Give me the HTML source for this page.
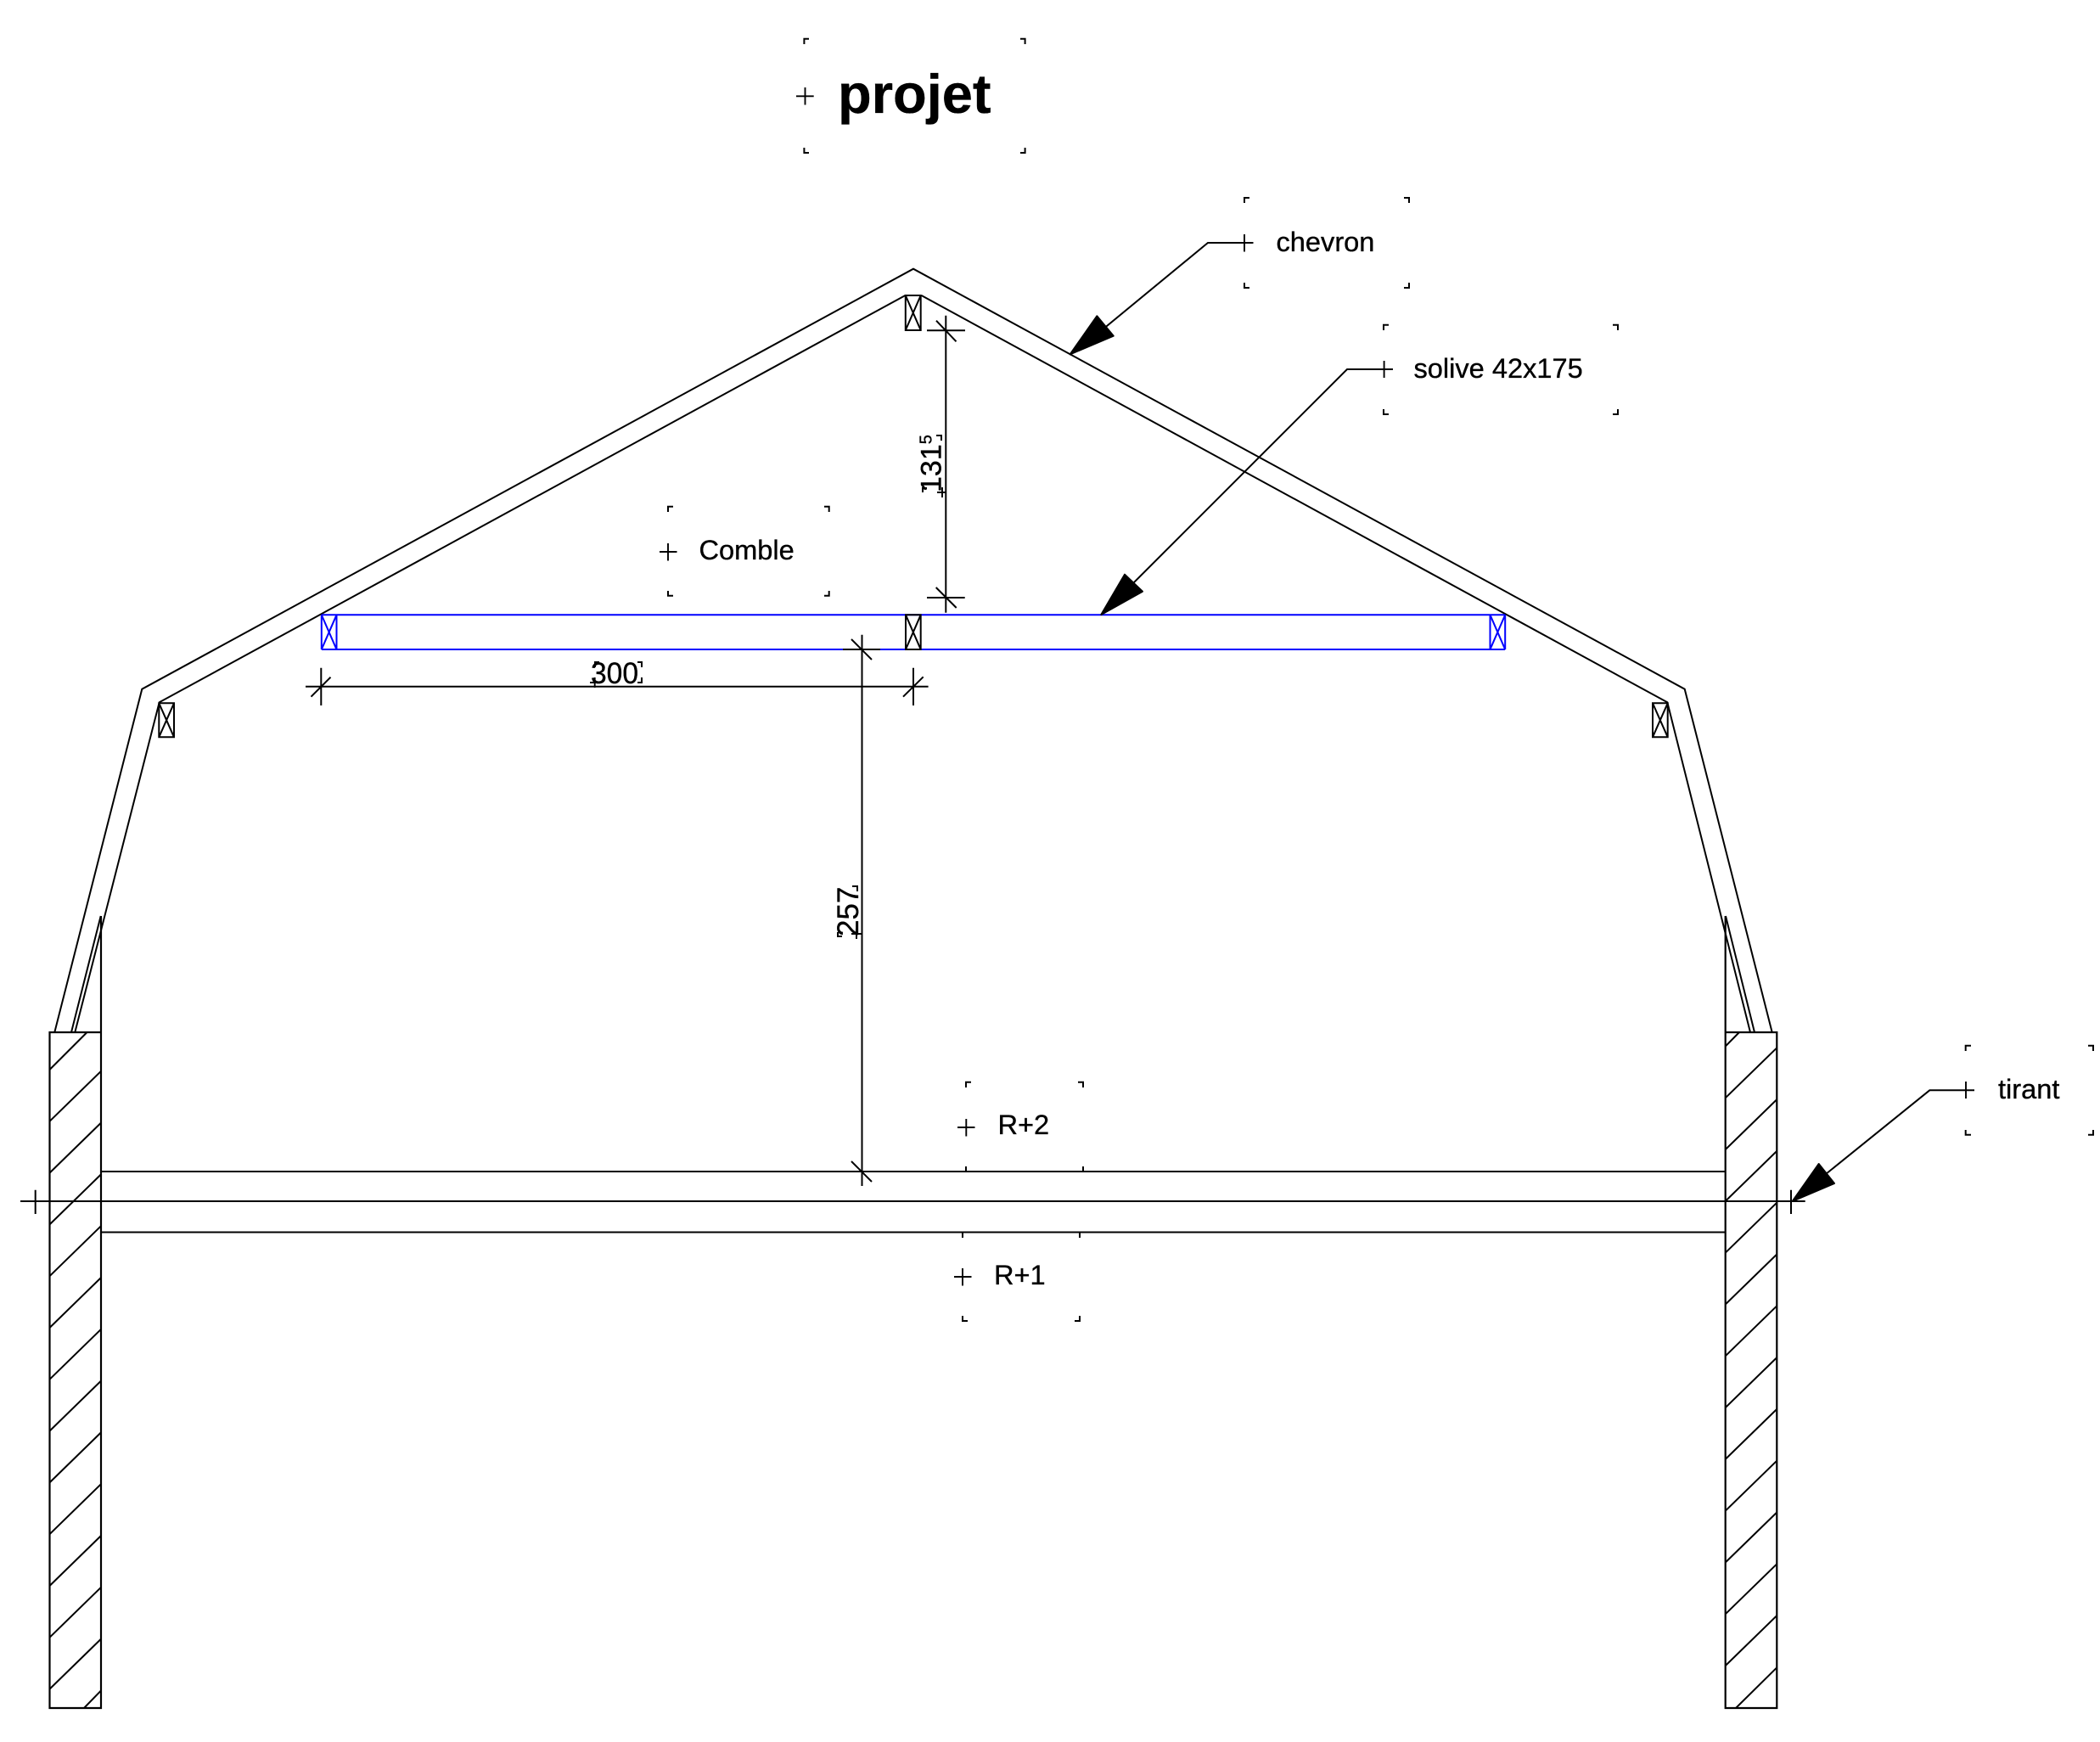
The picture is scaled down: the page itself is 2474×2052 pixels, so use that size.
<!DOCTYPE html>
<html><head><meta charset="utf-8"><style>
html,body{margin:0;padding:0;background:#fff}
svg{display:block}
text{font-family:"Liberation Sans",Arial,sans-serif;fill:#000;stroke:#000;stroke-width:.35}
</style></head><body>
<svg width="2474" height="2052" viewBox="0 0 2474 2052" xmlns="http://www.w3.org/2000/svg">
<rect width="2474" height="2052" fill="#fff"/>
<g fill="none" stroke="#000" stroke-width="2">
<!-- roof -->
<path d="M64.3 1216L167.3 811.7L1076 316.7L1984.7 811.7L2087.7 1216"/>
<path d="M88.3 1216L187.7 827.3L1066.5 348M1085.5 348L1964.3 827.3L2062 1216"/>
<path d="M84 1216L118.7 1079M2067 1216L2033 1079"/>
<!-- walls -->
<path stroke-width="2.2" d="M119 1079V2012H58.5V1216H119"/>
<path stroke-width="2.2" d="M2032.7 1079V2012H2093.3V1216H2032.7"/>
<!-- left hatch -->
<path d="M58.5 1260L102 1216.5M58.5 1320.8L119 1261.8M58.5 1381.6L119 1322.6M58.5 1442.4L119 1383.4M58.5 1503.2L119 1444.2M58.5 1564L119 1505M58.5 1624.8L119 1565.8M58.5 1685.6L119 1626.6M58.5 1746.4L119 1687.4M58.5 1807.2L119 1748.2M58.5 1868L119 1809M58.5 1928.8L119 1869.8M58.5 1989.6L119 1930.6M99 2012L119 1991.4"/>
<!-- right hatch -->
<path d="M2032.7 1232.5L2049 1216M2032.7 1293.3L2093.3 1234.3M2032.7 1354.1L2093.3 1295.1M2032.7 1414.9L2093.3 1355.9M2032.7 1475.7L2093.3 1416.7M2032.7 1536.5L2093.3 1477.5M2032.7 1597.3L2093.3 1538.3M2032.7 1658.1L2093.3 1599.1M2032.7 1718.9L2093.3 1659.9M2032.7 1779.7L2093.3 1720.7M2032.7 1840.5L2093.3 1781.5M2032.7 1901.3L2093.3 1842.3M2032.7 1962.1L2093.3 1903.1M2045 2012L2093.3 1964.3"/>
<!-- floor -->
<path d="M119 1380H2032.7M119 1451.5H2032.7M24 1415H2126.7M41.7 1401.7V1430M2110 1401.7V1430"/>
<!-- blocks -->
<path d="M1066.8 348H1084.7V389H1066.8ZM1066.8 348L1084.7 389M1084.7 348L1066.8 389"/>
<path d="M187.3 828.3H205V868.3H187.3ZM187.3 828.3L205 868.3M205 828.3L187.3 868.3"/>
<path d="M1947 828.3H1964.7V868.3H1947ZM1947 828.3L1964.7 868.3M1964.7 828.3L1947 868.3"/>
<!-- blue joist -->
<g stroke="#0000ff">
<path d="M378.8 724.3H1773.2M378.8 765H1773.2M378.8 724.3V765M396.5 724.3V765M1755.5 724.3V765M1773.2 724.3V765"/>
<path d="M378.8 724.3L396.5 765M396.5 724.3L378.8 765M1755.5 724.3L1773.2 765M1773.2 724.3L1755.5 765"/>
</g>
<path d="M1067 724.3H1084.7V765H1067ZM1067 724.3L1084.7 765M1084.7 724.3L1067 765"/>
<!-- dimensions -->
<path d="M360 808.7H1093.6M378.3 786.7V831M366.5 820.7L389.5 797.7M1076 786.7V831M1064 820.7L1087.7 797.3"/>
<path d="M1015.5 747.7V1397M993 765H1037M1003 753L1027 777M1003 1368L1027 1392"/>
<path d="M1114.3 371.7V721.7M1092 389.3H1137M1103 377.7L1126.5 402.3M1092 704H1136.7M1102.7 692L1126.7 716"/>
<!-- leaders -->
<path d="M1476.5 286H1423L1270 412"/>
<path d="M1641 435H1587L1300 722"/>
<path d="M2326 1284.3H2273.3L2120 1408"/>
</g>
<!-- arrowheads -->
<g fill="#000" stroke="#000" stroke-width="2" stroke-linejoin="round">
<polygon points="1260.7,417.3 1292.3,372.3 1311.7,395.7"/>
<polygon points="1297.3,724 1325,676.7 1346,696.7"/>
<polygon points="2111.7,1415 2142.7,1371 2161,1394"/>
</g>
<!-- pluses -->
<g fill="none" stroke="#000" stroke-width="1.9">
<path d="M938 113.3H958.7M948.5 103V123.5"/>
<path d="M1466 276V296.5"/>
<path d="M1630.6 425V445"/>
<path d="M777 650H797.5M787 640V660.5"/>
<path d="M1128 1328H1148.5M1138.3 1318V1338.5"/>
<path d="M1124 1504H1144.5M1134 1494V1514.5"/>
<path d="M2316 1274V1294"/>
<path d="M1104 580H1115M1110 574V586"/>
<path d="M1003 1100H1015M1009 1094V1106"/>
<path d="M695 804H706.5M700.7 798V810"/>
</g>
<!-- corner marks -->
<g fill="none" stroke="#000" stroke-width="2">
<path d="M947.4 52V45.7H953M1202 45.7H1207.6V52M947.4 174V180H953M1202 180H1207.6V174"/>
<path d="M1466 239V233H1472M1654 233H1660V239M1466 333V339H1472M1654 339H1660V333"/>
<path d="M1630 389V382.7H1636M1900 382.7H1906V389M1630 482V488H1636M1900 488H1906V482"/>
<path d="M787 603V596.7H793M971 596.7H976.7V603M787 696V701.7H793M971 701.7H976.7V696"/>
<path d="M1138 1281V1274.7H1144M1270 1274.7H1276V1281M1138 1374V1380M1276 1374V1380"/>
<path d="M1134 1451.5V1458M1272 1451.5V1458M1134 1550V1556H1140M1266 1556H1272V1550"/>
<path d="M2315.7 1238V1231.7H2322M2460 1231.7H2466V1238M2315.7 1331V1336.7H2322M2460 1336.7H2466V1331"/>
<path d="M1087 580V575H1092M1103 513H1109V519"/>
<path d="M987 1098V1103H992M1004 1044H1010V1050"/>
<path d="M701 786V780H706M751 780H756V786M756 798V804H751"/>
</g>
<!-- text -->
<text x="987" y="133" font-size="65" font-weight="bold">projet</text>
<text x="1503.5" y="296" font-size="32.6">chevron</text>
<text x="1665.5" y="445" font-size="32.6">solive 42x175</text>
<text x="823.5" y="659" font-size="32.6">Comble</text>
<text x="1175.5" y="1336" font-size="32.6">R+2</text>
<text x="1171" y="1513" font-size="32.6">R+1</text>
<text x="2354" y="1294" font-size="32.6">tirant</text>
<text x="696" y="805" font-size="35" textLength="56" lengthAdjust="spacingAndGlyphs">300</text>
<text transform="translate(1011 1103) rotate(-90)" font-size="35">257</text>
<text transform="translate(1108.5 580) rotate(-90)" font-size="34">131<tspan dy="-11" font-size="20">5</tspan></text>
</svg>
</body></html>
